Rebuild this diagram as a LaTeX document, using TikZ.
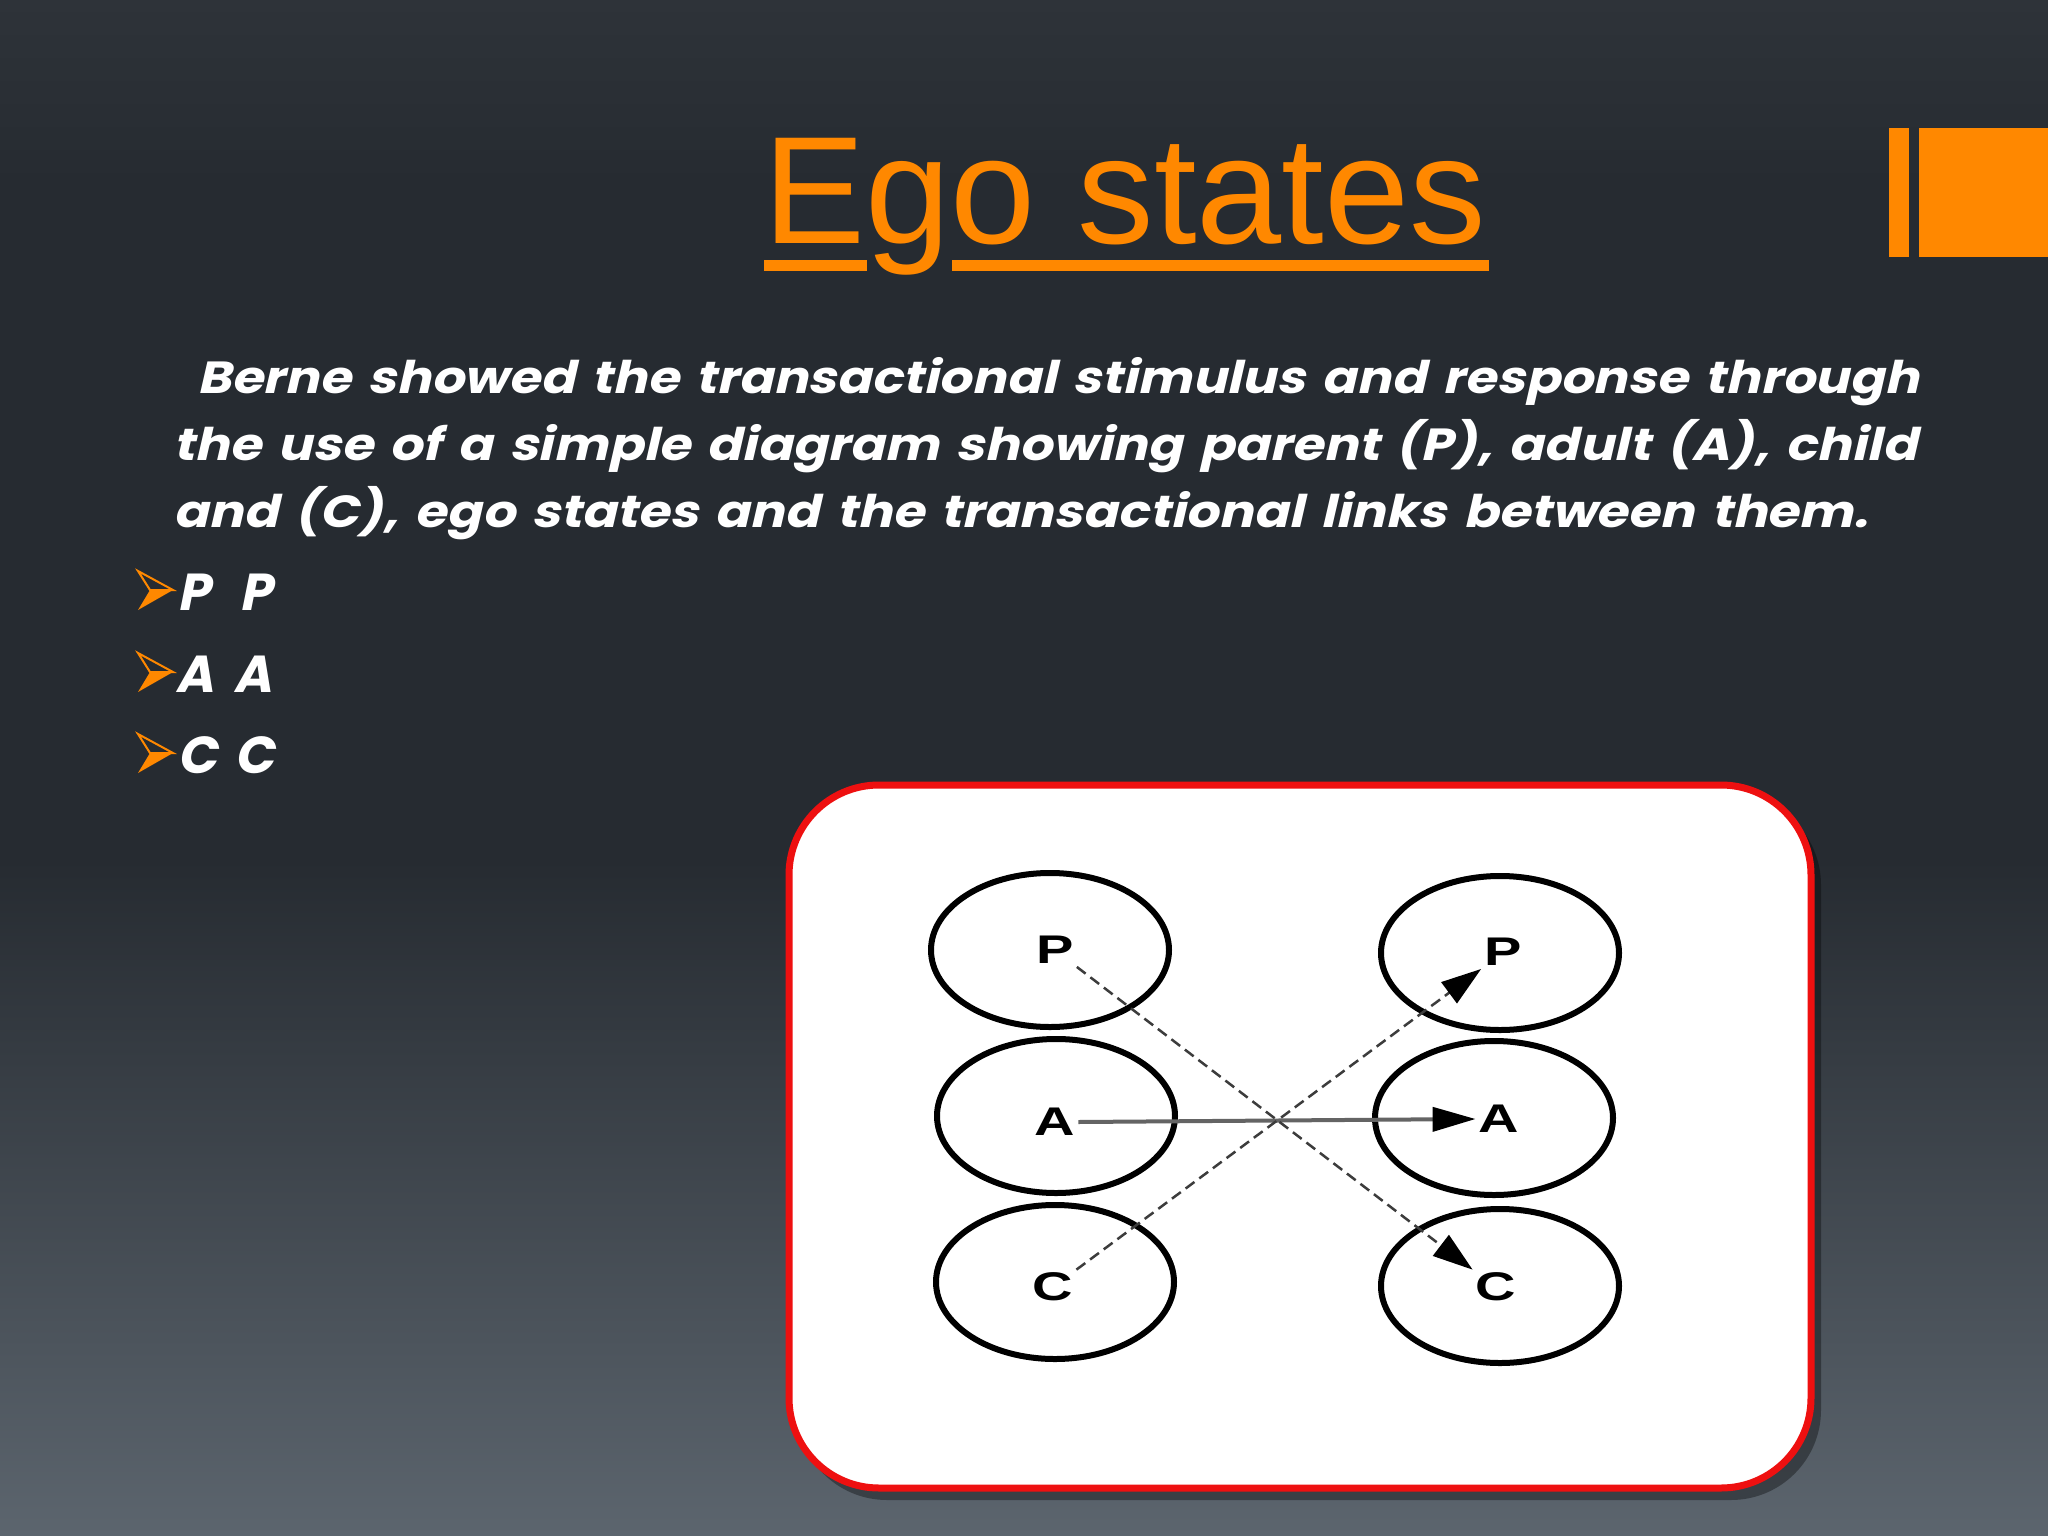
\documentclass[tikz,border=0pt]{standalone}
\usepackage{fontspec}
\usepackage{graphicx}
\usetikzlibrary{shapes.geometric,arrows.meta}
\setmainfont{Liberation Sans}
\newfontfamily\titlefont{Liberation Sans}
\newfontfamily\gothicfont[FakeSlant=0.2, WordSpace=1.5]{Poppins}
\definecolor{orng}{RGB}{255,136,0}
\definecolor{bgA}{RGB}{46,51,57}
\definecolor{bgB}{RGB}{38,43,49}
\definecolor{bgC}{RGB}{92,101,110}
\definecolor{redbox}{RGB}{238,16,16}
\definecolor{lnA}{RGB}{100,100,100}
\definecolor{lnD}{RGB}{60,60,60}
\pgfdeclareverticalshading{bgshade}{100bp}{color(0bp)=(bgC); color(25bp)=(bgC); color(47bp)=(bgB); color(69bp)=(bgB); color(75bp)=(bgA); color(100bp)=(bgA)}
\tikzset{
  body/.style={anchor=base west, inner sep=0, text=white, font=\gothicfont\bfseries\fontsize{45pt}{50pt}\selectfont},
  bultext/.style={anchor=base west, inner sep=0, text=white, font=\gothicfont\bfseries\fontsize{52pt}{54pt}\selectfont},
  bul/.pic={
    \fill[orng] (0,0) -- (23,0) -- (-12,20) -- cycle;
    \draw[orng, line width=2, line join=miter] (0,0) -- (23,0) -- (-12,-19) -- cycle;
  },
  ego/.style={ellipse, draw=black, line width=6, minimum width=238, minimum height=154, inner sep=0},
  lab/.style={inner sep=3, text=black, font=\bfseries\fontsize{40pt}{44pt}\selectfont},
  solidln/.style={line width=4, draw=lnA, -{Triangle[length=43pt,width=24pt,color=black]}},
  dashln/.style={line width=2.5, draw=lnD, dash pattern=on 11pt off 6pt, -{Triangle[length=40pt,width=26pt,color=black]}}
}
\begin{document}
\begin{tikzpicture}[x=1pt,y=-1pt]
\useasboundingbox (0,0) rectangle (2048,1536);
\shade[shading=bgshade] (0,0) rectangle (2048,1536);
% top right decoration
\fill[orng] (1889,128) rectangle (1909,257);
\fill[orng] (1919,128) rectangle (2048,257);
% title
\node[anchor=base west, inner sep=0, text=orng, font=\titlefont\fontsize{153pt}{160pt}\selectfont] (title) at (763,243) {Ego states};
\fill[orng] (764,260) rectangle (867,271);
\fill[orng] (952,260) rectangle (1489,271);
% body text
\node[body] (l1) at (197,393) {\resizebox{1722pt}{\height}{Berne showed the transactional stimulus and response through}};
\node[body] (l2) at (173,460) {\resizebox{1744pt}{\height}{the use of a simple diagram showing parent (P), adult (A), child}};
\node[body] (l3) at (173,527) {\resizebox{1695pt}{\height}{and (C), ego states and the transactional links between them.}};
% bullets
\pic at (150,590) {bul};
\pic at (150,672) {bul};
\pic at (150,753) {bul};
\node[bultext] (b1) at (177,610) {P\hspace{30pt}P};
\node[bultext] (b2) at (175,692) {A\hspace{20pt}A};
\node[bultext] (b3) at (177,773) {C\hspace{18pt}C};
% white box
\fill[black, opacity=0.35, rounded corners=90] (797,795) rectangle (1821,1500);
\draw[redbox, line width=7, fill=white, rounded corners=90] (789,785) rectangle (1811,1488);
% circles
\node[ego] (lPc) at (1050,950) {};
\node[ego] (lAc) at (1056,1116) {};
\node[ego] (lCc) at (1055,1282) {};
\node[ego] (rPc) at (1500,953) {};
\node[ego] (rAc) at (1494,1118) {};
\node[ego] (rCc) at (1500,1286) {};
% labels
\node[lab] (lP) at (1055,950) {\scalebox{1.4}[1]{P}};
\node[lab] (lA) at (1055,1122) {\scalebox{1.4}[1]{A}};
\node[lab] (lC) at (1053,1287) {\scalebox{1.4}[1]{C}};
\node[lab] (rP) at (1503,952) {\scalebox{1.4}[1]{P}};
\node[lab] (rA) at (1499,1119) {\scalebox{1.4}[1]{A}};
\node[lab] (rC) at (1496,1287) {\scalebox{1.4}[1]{C}};
% transactions
\draw[solidln] (lA.east) -- (rA.west);
\draw[dashln] (lP.south east) -- (rC.north west);
\draw[dashln] (lC.north east) -- (rP.south west);
\end{tikzpicture}
\end{document}
